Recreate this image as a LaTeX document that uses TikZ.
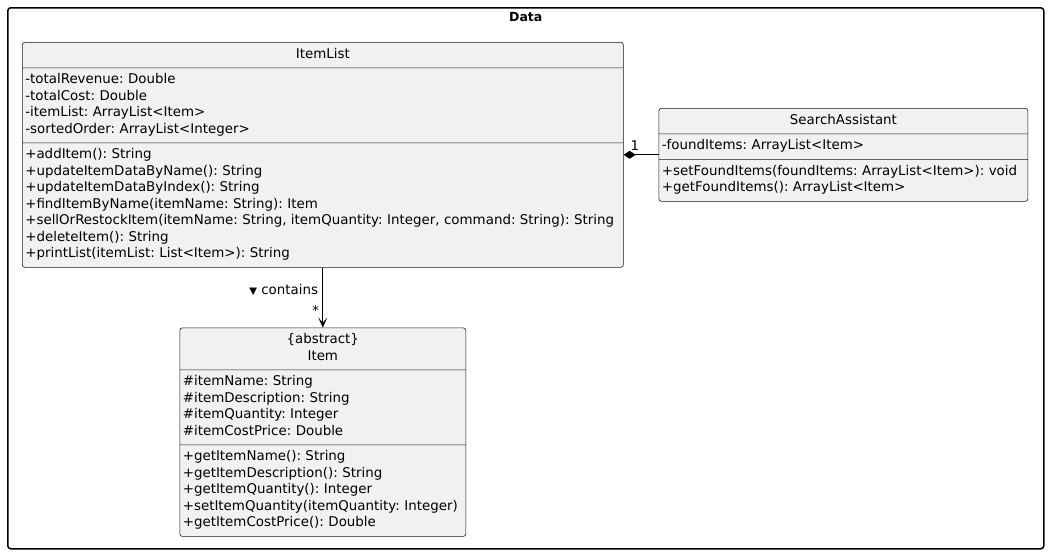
\documentclass[tikz,border=0pt]{standalone}
\usepackage{fontspec}
\setmainfont{DejaVu Sans}
\usetikzlibrary{positioning,shapes.multipart,arrows.meta}
\definecolor{classfill}{HTML}{F1F1F1}
\definecolor{classline}{HTML}{181818}
\frenchspacing
\begin{document}
\begin{tikzpicture}
  [x=1pt, y=-1pt,
  every node/.style={font=\fontsize{13.4}{16.5}\selectfont},
  class/.style={rectangle split, rectangle split parts=3, draw=classline,
    fill=classfill, line width=0.6pt, rounded corners=2.5pt,
    inner xsep=3pt, inner ysep=4.2pt},
  contains/.style={draw, line width=1pt, -{Stealth[length=10pt,width=9pt,inset=5pt]}},
  partof/.style={draw, line width=1pt, {Diamond[length=12pt,width=8pt]}-}]
  \useasboundingbox (0,0) rectangle (1049,554);
  % package frame
  \node[draw, line width=1.5pt, rounded corners=3pt, minimum width=1036pt,
    minimum height=541pt, anchor=north west] (data) at (7,7) {};
  \node[font=\bfseries\fontsize{12.5}{14}\selectfont, below=2pt of data.north] (datatitle) {Data};
  % classes
  \node[class, text width=595pt, anchor=north west] (itemlist) at (22,42) {
    \centering\strut ItemList\strut\par
    \nodepart{second}
    \strut-totalRevenue: Double\\
    -totalCost: Double\\
    -itemList: ArrayList<Item>\\
    -sortedOrder: ArrayList<Integer>\strut
    \nodepart{third}
    \strut+addItem(): String\\
    +updateItemDataByName(): String\\
    +updateItemDataByIndex(): String\\
    +findItemByName(itemName: String): Item\\
    +sellOrRestockItem(itemName: String, itemQuantity: Integer, command: String): String\\
    +deleteItem(): String\\
    +printList(itemList: List<Item>): String\strut
  };
  \node[class, text width=363pt, right=35pt of itemlist] (search) {
    \centering\strut SearchAssistant\strut\par
    \nodepart{second}
    \strut-foundItems: ArrayList<Item>\strut
    \nodepart{third}
    \strut+setFoundItems(foundItems: ArrayList<Item>): void\\
    +getFoundItems(): ArrayList<Item>\strut
  };
  \node[class, text width=280pt, below=60pt of itemlist] (item) {
    \centering\strut\{abstract\}\\
    Item\strut\par
    \nodepart{second}
    \strut\#itemName: String\\
    \#itemDescription: String\\
    \#itemQuantity: Integer\\
    \#itemCostPrice: Double\strut
    \nodepart{third}
    \strut+getItemName(): String\\
    +getItemDescription(): String\\
    +getItemQuantity(): Integer\\
    +setItemQuantity(itemQuantity: Integer)\\
    +getItemCostPrice(): Double\strut
  };
  % relations
  \draw[contains] (itemlist.south) -- (item.north)
    node[pos=0.38, left=1pt] (containslbl) {\scalebox{0.75}{▼} contains}
    node[pos=0.72, left=0pt] (manymult) {*};
  \draw[partof] (itemlist.east) -- (search.west)
    node[pos=0.32, above=0pt] (onemult) {1};
\end{tikzpicture}
\end{document}
